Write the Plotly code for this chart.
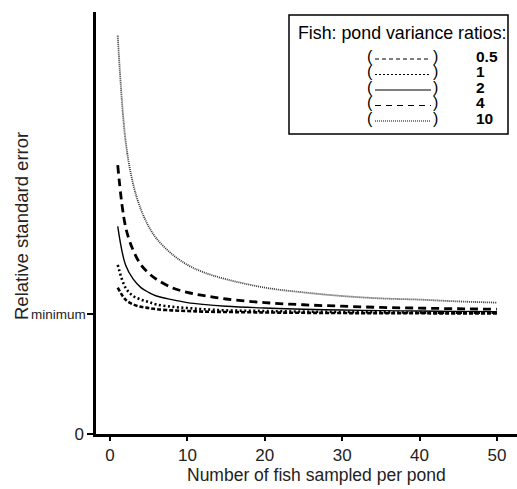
import plotly.graph_objects as go

# Number of fish sampled per pond
n_fish = [1, 2, 3, 4, 5, 6, 8, 10, 12, 15, 20, 25, 30, 35, 40, 45, 50]
# Relative standard error (1 = minimum), per variance ratio
rse_05 = [1.22, 1.12, 1.08, 1.06, 1.05, 1.04, 1.03, 1.025, 1.02, 1.017, 1.013, 1.01, 1.008, 1.007, 1.006, 1.005, 1.005]
rse_1 = [1.41, 1.22, 1.15, 1.12, 1.10, 1.08, 1.06, 1.05, 1.04, 1.03, 1.025, 1.02, 1.017, 1.014, 1.012, 1.011, 1.01]
rse_2 = [1.73, 1.41, 1.29, 1.22, 1.18, 1.15, 1.12, 1.095, 1.08, 1.065, 1.05, 1.04, 1.033, 1.028, 1.025, 1.022, 1.02]
rse_4 = [2.24, 1.73, 1.53, 1.41, 1.34, 1.29, 1.22, 1.18, 1.155, 1.125, 1.095, 1.077, 1.065, 1.055, 1.049, 1.044, 1.04]
rse_10 = [3.32, 2.45, 2.08, 1.87, 1.73, 1.63, 1.50, 1.41, 1.35, 1.29, 1.22, 1.18, 1.15, 1.13, 1.12, 1.105, 1.095]
ratio_labels = ["0.5", "1", "2", "4", "10"]
x_ticks = [0, 10, 20, 30, 40, 50]

series = [rse_05, rse_1, rse_2, rse_4, rse_10]
styles = [
    dict(color="black", width=2.6, dash="4px,2px"),
    dict(color="black", width=2.6, dash="2px,2.5px"),
    dict(color="black", width=1.4, dash="solid"),
    dict(color="black", width=2.8, dash="8px,5px"),
    dict(color="#333333", width=1.8, dash="1px,1px"),
]
legend_dash = ["4px,3px", "2px,2px", "solid", "6px,5px", "1px,1px"]

FONT = "Liberation Sans, Arial, sans-serif"

fig = go.Figure()
for vals, st, lab in zip(series, styles, ratio_labels):
    fig.add_trace(go.Scatter(x=n_fish, y=vals, mode="lines", name=lab,
                             line=dict(shape="spline", smoothing=1.0, **st),
                             showlegend=False))

# plot area in pixels
L, R, T, B = 96, 517, 12, 434


def px(x):
    return (x - L) / (R - L)


def py(y):
    return (B - y) / (B - T)


shapes = []
annotations = []
# legend box
shapes.append(dict(type="rect", xref="paper", yref="paper",
                   x0=px(289), x1=px(508), y0=py(134), y1=py(15),
                   line=dict(color="black", width=1.5), fillcolor="white", layer="above"))
annotations.append(dict(xref="paper", yref="paper", x=px(296), y=py(33),
                        xanchor="left", yanchor="middle", showarrow=False,
                        text="Fish: pond variance ratios:",
                        font=dict(family=FONT, size=17.8, color="black")))
rows = [56, 71.5, 87, 102.5, 118]
for ry, ld in zip(rows, legend_dash):
    shapes.append(dict(type="line", xref="paper", yref="paper",
                       x0=px(375), x1=px(431), y0=py(ry + 3), y1=py(ry + 3),
                       line=dict(color="black", width=1.1, dash=ld), layer="above"))

mid = sum(rows) / len(rows)
paren_l = "<br>".join("<span style='font-size:16px'>(</span>" for _ in ratio_labels)
paren_r = "<br>".join("<span style='font-size:16px'>)</span>" for _ in ratio_labels)
lab_col = "<br>".join("<span style='font-size:15.5px'><b>%s</b></span>" % s for s in ratio_labels)
for xx, txt, anc in [(370, paren_l, "center"), (435, paren_r, "center"), (474, lab_col, "left")]:
    annotations.append(dict(xref="paper", yref="paper", x=px(xx), y=py(mid + 1),
                            xanchor=anc, yanchor="middle", showarrow=False, align="left",
                            text=txt, font=dict(family=FONT, size=11.9, color="black")))

# "minimum" tick label
annotations.append(dict(xref="paper", yref="y", x=px(88), y=1,
                        xanchor="right", yanchor="middle", showarrow=False,
                        text="minimum", font=dict(family=FONT, size=13.5, color="#222")))
# axis titles
annotations.append(dict(xref="paper", yref="paper", x=px(21), y=py(226),
                        xanchor="center", yanchor="middle", showarrow=False, textangle=-90,
                        text="Relative standard error",
                        font=dict(family=FONT, size=18.5, color="#222")))
annotations.append(dict(xref="paper", yref="paper", x=px(316), y=py(475),
                        xanchor="center", yanchor="middle", showarrow=False,
                        text="Number of fish sampled per pond",
                        font=dict(family=FONT, size=17.5, color="#222")))

fig.update_layout(
    width=517, height=489,
    margin=dict(l=L, r=517 - R, t=T, b=489 - B, pad=0),
    paper_bgcolor="white", plot_bgcolor="white",
    font=dict(family=FONT, color="#222"),
    shapes=shapes, annotations=annotations,
    xaxis=dict(range=[-1.81, 52.6], tickvals=x_ticks, ticks="outside", ticklen=4,
               tickwidth=2, tickcolor="black", showline=True, linecolor="black",
               linewidth=2.5, showgrid=False, zeroline=False,
               tickfont=dict(family=FONT, size=17, color="#222")),
    yaxis=dict(range=[0, 3.517], tickvals=[0, 1], ticktext=["0", ""],
               ticks="outside", ticklen=6, tickwidth=2, tickcolor="black",
               showline=True, linecolor="black", linewidth=2.5, showgrid=False,
               zeroline=False, tickfont=dict(family=FONT, size=17, color="#222")),
)

fig.write_html("out.html", config={"displayModeBar": False},
               post_script="document.body.style.margin='0';")
